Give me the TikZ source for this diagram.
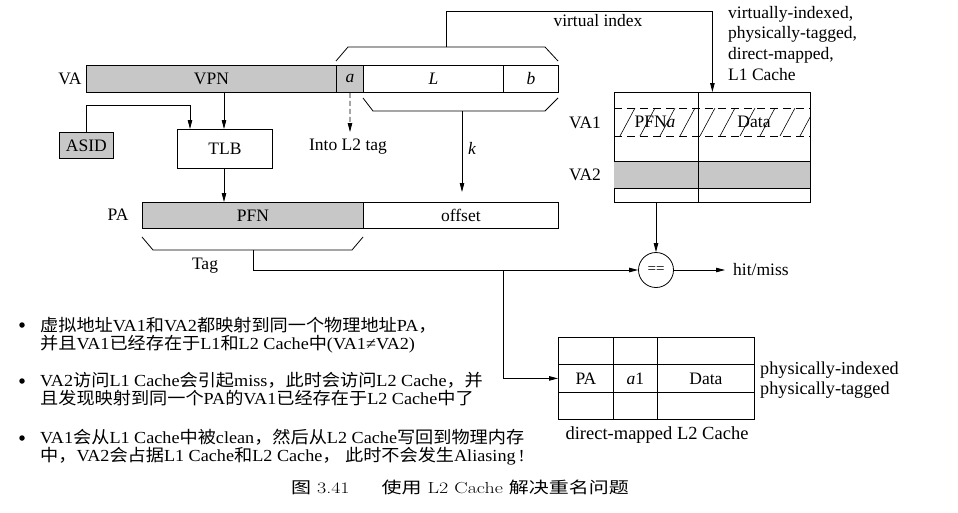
\documentclass[tikz,border=0pt]{standalone}
\usepackage{fontspec}
\newfontfamily\tms{Liberation Serif}
\newfontfamily\cjk{Noto Sans CJK SC}
\usetikzlibrary{arrows.meta,calc}
\newcommand\zhtext[1]{{\cjk #1}}
\newcommand\wideline[1]{\scalebox{1.075}[1]{#1}}
\tikzset{
  lbl/.style={font=\tms\fontsize{17.5}{20}\selectfont, inner sep=0},
  cell/.style={draw, line width=0.8pt, inner sep=0, anchor=north west, lbl},
  grayfill/.style={fill=black!22},
  ln/.style={line width=0.8pt},
  arr/.style={line width=0.8pt, -{Triangle[length=9pt,width=4.5pt]}},
  bul/.style={font=\tms\fontsize{16.9}{17}\selectfont, inner sep=0, anchor=base west},
  dot/.style={circle, fill, inner sep=0, minimum size=5.5pt},
}
\begin{document}
\begin{tikzpicture}[x=1pt,y=-1pt]
\useasboundingbox (0,0) rectangle (958,512);

% VA bar
\node[lbl] (va) at (70,79) {VA};
\node[cell,grayfill,minimum width=250pt,minimum height=27pt] (vpn) at (86,65) {VPN};
\node[cell,grayfill,minimum width=27pt,minimum height=27pt] (a) at (336,65) {\itshape a};
\node[cell,minimum width=140pt,minimum height=27pt] (L) at (363,65) {\itshape L};
\node[cell,minimum width=55pt,minimum height=27pt] (b) at (503,65) {\itshape b};

% braces around a,L,b and L,b
\draw[ln] (336,61) -- (348,47) -- (545,47) -- (558,61);
\coordinate (tb) at (446,47);
\draw[ln] (363,98) -- (373,111) -- (545,111) -- (558,98);
\coordinate (bb) at (462,111);

% ASID, TLB
\node[cell,grayfill,minimum width=54pt,minimum height=26pt] (asid) at (59,132) {ASID};
\node[cell,minimum width=95pt,minimum height=39pt] (tlb) at (177,129) {TLB};

% PA bar
\node[lbl] (pa) at (118,215) {PA};
\node[cell,grayfill,minimum width=221pt,minimum height=26pt] (pfn) at (142,202) {PFN};
\node[cell,minimum width=195pt,minimum height=26pt] (offset) at (363,202) {offset};
\draw[ln] (142,237) -- (153,250) -- (352,250) -- (363,237);
\coordinate (tg) at (253,250);
\node[lbl] (tag) at (205,266) {Tag};

% connectors of the left part
\coordinate (vp) at (224,92);
\draw[arr] (vp) -- (vp |- tlb.north);
\coordinate (as) at (190,105);
\draw[arr] (asid.north) |- (as) -- (as |- tlb.north);
\draw[arr] (vp |- tlb.south) -- (vp |- pfn.north);
\coordinate (aend) at (350,132);
\draw[arr,dash pattern=on 5pt off 3pt] (a.south) -- (aend);
\node[lbl] (intol2) at (348,147) {Into L2 tag};
\coordinate (kend) at (462,192);
\draw[arr] (bb) -- (kend);
\node[lbl] (k) at (472,148) {\itshape k};

% L1 cache
\node[draw,ln,minimum width=196pt,minimum height=110pt,anchor=north west,inner sep=0] (l1) at (614,92) {};
\begin{scope}
  \clip (614,108) rectangle (810,136);
  \foreach \x in {580,600,...,820} \draw[line width=0.6pt] (\x,136) -- (\x+15,108);
\end{scope}
\draw[ln,dash pattern=on 8pt off 5pt] (614,108) -- (810,108) (614,136) -- (810,136);
\fill[black!22] (614,161) rectangle (810,188);
\draw[ln] (614,161) -- (810,161) (614,188) -- (810,188);
\draw[ln] (698,92) -- (698,202);
\node[lbl] (pfna) at (655,122) {PFN\textit{a}};
\node[lbl] (data1) at (754,122) {Data};
\node[lbl] (va1) at (585,123) {VA1};
\node[lbl] (va2) at (585,175) {VA2};
\draw[arr] (tb) -- (446,11) -| (l1.north);
\node[lbl] (vidx) at (598,21) {virtual index};
\node[lbl,align=left,anchor=north west,font=\tms\fontsize{17.5}{20.6}\selectfont] (l1lbl) at (728,6)
  {virtually-indexed,\\physically-tagged,\\direct-mapped,\\L1 Cache};

% comparator
\node[draw,circle,ln,minimum size=35pt,inner sep=0,font=\tms\fontsize{15}{15}\selectfont] (eq) at (656,270) {==};
\draw[arr] (eq.north |- l1.south) -- (eq.north);
\draw[arr] (tg) |- (eq.west);
\node[lbl,anchor=west] (hit) at (733,270) {hit/miss};
\coordinate (hitend) at (725,270);
\draw[arr] (eq.east) -- (hitend);

% L2 cache
\draw[ln] (558,337) rectangle (754,419);
\draw[ln] (613,337) -- (613,419) (657,337) -- (657,419);
\node[cell,minimum width=55pt,minimum height=28pt] (pa2) at (558,364) {PA};
\node[cell,minimum width=44pt,minimum height=28pt] (a1) at (613,364) {\itshape a\upshape 1};
\node[cell,minimum width=97pt,minimum height=28pt] (data2) at (657,364) {Data};
\coordinate (br) at (503,270);
\draw[arr] (br) |- (pa2.west);
\node[lbl,align=left,anchor=west,font=\tms\fontsize{18.2}{20}\selectfont] (l2lbl) at (760,380) {physically-indexed\\physically-tagged};
\node[lbl,font=\tms\fontsize{18.5}{20}\selectfont] (l2name) at (657,435) {direct-mapped L2 Cache};

% bullets
\node[dot] (d1) at (22,325) {};
\node[dot] (d2) at (22,381) {};
\node[dot] (d3) at (22,438) {};
\node[bul] (t1a) at (40,331) {\wideline{\zhtext{虚拟地址}VA1\zhtext{和}VA2\zhtext{都映射到同一个物理地址}PA\zhtext{，}}};
\node[bul] (t1b) at (40,349) {\wideline{\zhtext{并且}VA1\zhtext{已经存在于}L1\zhtext{和}L2 Cache\zhtext{中}(VA1≠VA2)}};
\node[bul] (t2a) at (40,386) {\wideline{VA2\zhtext{访问}L1 Cache\zhtext{会引起}miss\zhtext{，此时会访问}L2 Cache\zhtext{，并}}};
\node[bul] (t2b) at (40,404) {\wideline{\zhtext{且发现映射到同一个}PA\zhtext{的}VA1\zhtext{已经存在于}L2 Cache\zhtext{中了}}};
\node[bul] (t3a) at (40,443) {\wideline{VA1\zhtext{会从}L1 Cache\zhtext{中被}clean\zhtext{，然后从}L2 Cache\zhtext{写回到物理内存}}};
\node[bul] (t3b) at (40,461) {\wideline{\zhtext{中，}VA2\zhtext{会占据}L1 Cache\zhtext{和}L2 Cache\zhtext{，} \zhtext{此时不会发生}Aliasing\,!}};

% caption
\node[inner sep=0,font=\fontsize{16}{16}\selectfont] (cap) at (460,487)
  {\scalebox{1.25}[1]{\zhtext{图}\ 3.41\hspace{1.6em}\zhtext{使用}\ L2 Cache\ \zhtext{解决重名问题}}};
\end{tikzpicture}
\end{document}
